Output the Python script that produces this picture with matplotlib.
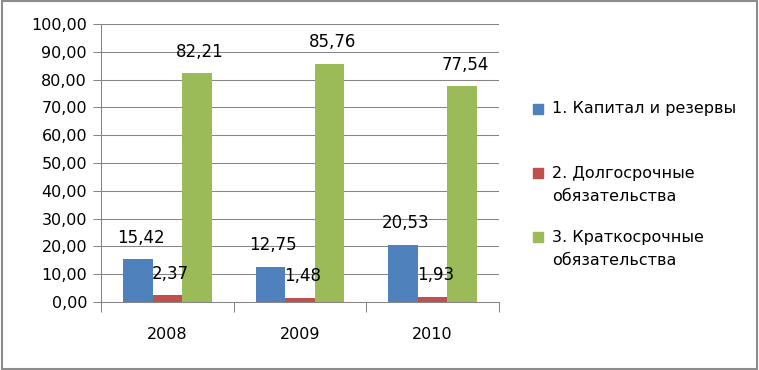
import matplotlib.pyplot as plt
from matplotlib.patches import Rectangle
import numpy as np

years = ["2008", "2009", "2010"]
series_names = [
    "1. Капитал и резервы",
    "2. Долгосрочные\nобязательства",
    "3. Краткосрочные\nобязательства",
]
capital = [15.42, 12.75, 20.53]
long_term = [2.37, 1.48, 1.93]
short_term = [82.21, 85.76, 77.54]
colors = ["#4F81BD", "#C0504D", "#9BBB59"]

plt.rcParams["font.family"] = ["DejaVu Sans"]
axis_color = "#868686"

fig = plt.figure(figsize=(7.59, 3.70), dpi=100)
ax = fig.add_axes([101 / 759, 1 - 302 / 370, 398 / 759, 278 / 370])
ax.set_axisbelow(True)
ax.yaxis.grid(True, color=axis_color, linewidth=0.75)

x = np.arange(len(years))
w = 1 / 4.5
for i, (vals, col) in enumerate(zip([capital, long_term, short_term], colors)):
    ax.bar(x + (i - 1) * w, vals, width=w, color=col, edgecolor="none")
    for xi, v in zip(x + (i - 1) * w, vals):
        ax.annotate(
            "{:.2f}".format(v).replace(".", ","),
            (xi, v),
            xytext=(2, 9),
            textcoords="offset points",
            ha="center",
            va="bottom",
            fontsize=12,
        )

ax.set_xlim(-0.5, 2.5)
ax.set_ylim(0, 100)
ax.set_yticks(np.arange(0, 101, 10))
ax.set_yticklabels(["{:.2f}".format(t).replace(".", ",") for t in np.arange(0, 101, 10)], fontsize=11.5)
ax.set_xticks([-0.5, 0.5, 1.5, 2.5])
ax.set_xticklabels([])
ax.set_xticks(x, minor=True)
ax.set_xticklabels(years, minor=True, fontsize=11.5)
ax.tick_params(axis="x", which="major", length=7, width=0.75, color=axis_color, direction="out")
ax.tick_params(axis="x", which="minor", length=0, pad=18)
ax.tick_params(axis="y", length=6, width=0.75, color=axis_color, direction="out", pad=4)
for s in ["top", "right"]:
    ax.spines[s].set_visible(False)
for s in ["left", "bottom"]:
    ax.spines[s].set_color(axis_color)
    ax.spines[s].set_linewidth(0.75)

# legend drawn by hand: marker sits on the first line of each entry
legend_first_line = [109, 173, 237]  # pixel rows from top
for name, col, y in zip(series_names, colors, legend_first_line):
    fig.patches.append(Rectangle((533 / 759, 1 - (y + 5) / 370), 10 / 759, 10 / 370,
                                 transform=fig.transFigure, color=col))
    nlines = name.count("\n") + 1
    yc = y + (nlines - 1) * 24 / 2
    fig.text(552 / 759, 1 - yc / 370, name, va="center", ha="left",
             fontsize=11.5, linespacing=1.6)

fig.patches.append(Rectangle((0.002, 0.003), 0.995, 0.994, transform=fig.transFigure,
                             fill=False, edgecolor="#8C8C8C", linewidth=1.5))

fig.savefig("out.png", dpi=100)
